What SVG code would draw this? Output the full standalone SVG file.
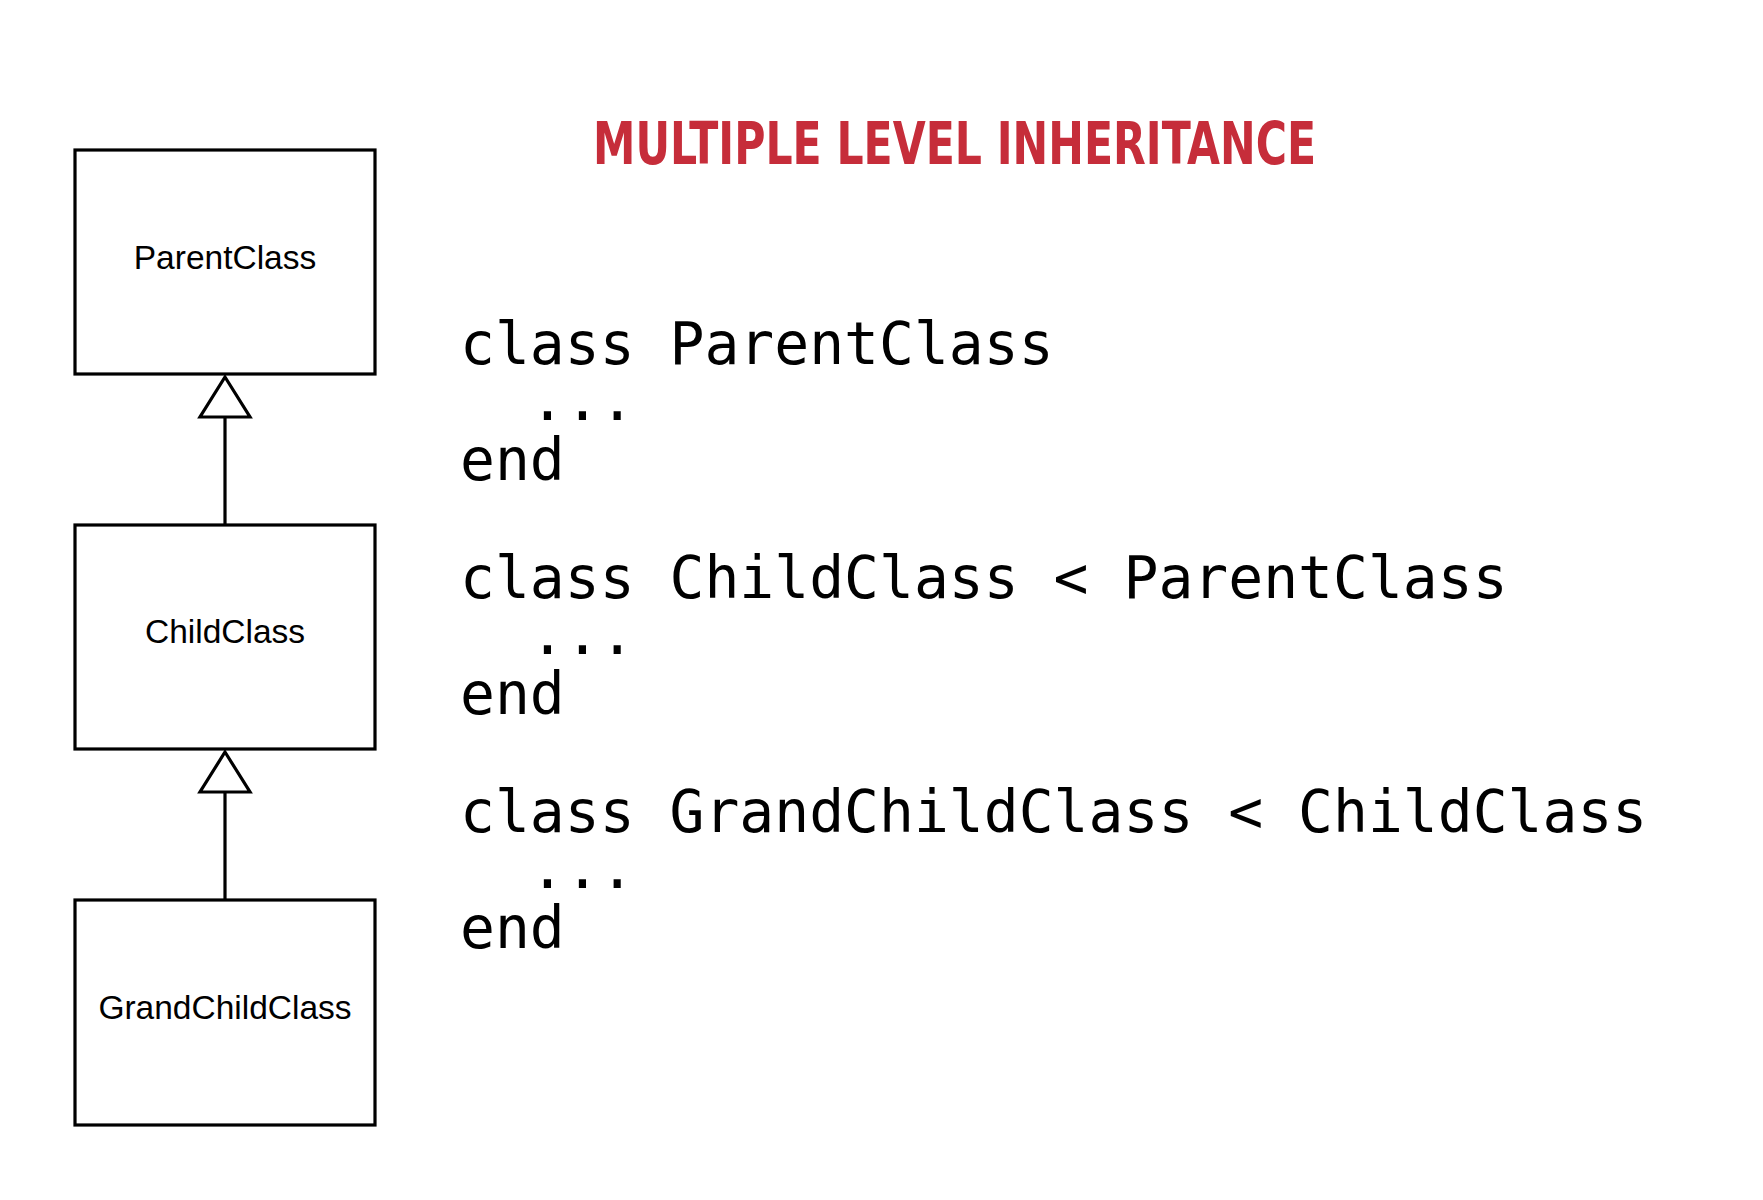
<svg xmlns="http://www.w3.org/2000/svg" width="1763" height="1200" viewBox="0 0 1763 1200">
  <defs>
    <style>
      .box { fill: #ffffff; stroke: #000000; stroke-width: 3.2; }
      .label { font-family: "Liberation Sans", Arial, sans-serif; font-size: 33.5px; fill: #000000; text-anchor: middle; }
      .code { font-family: "DejaVu Sans Mono", "Liberation Mono", monospace; font-size: 58px; fill: #000000; }
      .title { font-family: "Liberation Sans Narrow", "DejaVu Sans Condensed", sans-serif; font-size: 58px; font-weight: bold; fill: #c62d3a; }
      .edge { fill: none; stroke: #000000; stroke-width: 3.2; }
      .head { fill: #ffffff; stroke: #000000; stroke-width: 3.2; stroke-linejoin: miter; }
    </style>
  </defs>
  <rect width="1763" height="1200" fill="#ffffff"/>

  <text class="title" x="593" y="164" textLength="723" lengthAdjust="spacingAndGlyphs">MULTIPLE LEVEL INHERITANCE</text>

  <g id="connectors">
    <line class="edge" x1="225" y1="525" x2="225" y2="417"/>
    <polygon class="head" points="225,377 250,417 200,417"/>
    <line class="edge" x1="225" y1="900" x2="225" y2="792"/>
    <polygon class="head" points="225,752 250,792 200,792"/>
  </g>

  <g id="node-parent">
    <rect class="box" x="75" y="150" width="300" height="224"/>
    <text class="label" x="225" y="269">ParentClass</text>
  </g>
  <g id="node-child">
    <rect class="box" x="75" y="525" width="300" height="224"/>
    <text class="label" x="225" y="643">ChildClass</text>
  </g>
  <g id="node-grandchild">
    <rect class="box" x="75" y="900" width="300" height="225"/>
    <text class="label" x="225" y="1019">GrandChildClass</text>
  </g>

  <g id="code">
    <text class="code" x="460" y="364">class ParentClass</text>
    <text class="code" x="530" y="420">...</text>
    <text class="code" x="460" y="480">end</text>
    <text class="code" x="460" y="598">class ChildClass &lt; ParentClass</text>
    <text class="code" x="530" y="654">...</text>
    <text class="code" x="460" y="714">end</text>
    <text class="code" x="460" y="832">class GrandChildClass &lt; ChildClass</text>
    <text class="code" x="530" y="888">...</text>
    <text class="code" x="460" y="948">end</text>
  </g>
</svg>
